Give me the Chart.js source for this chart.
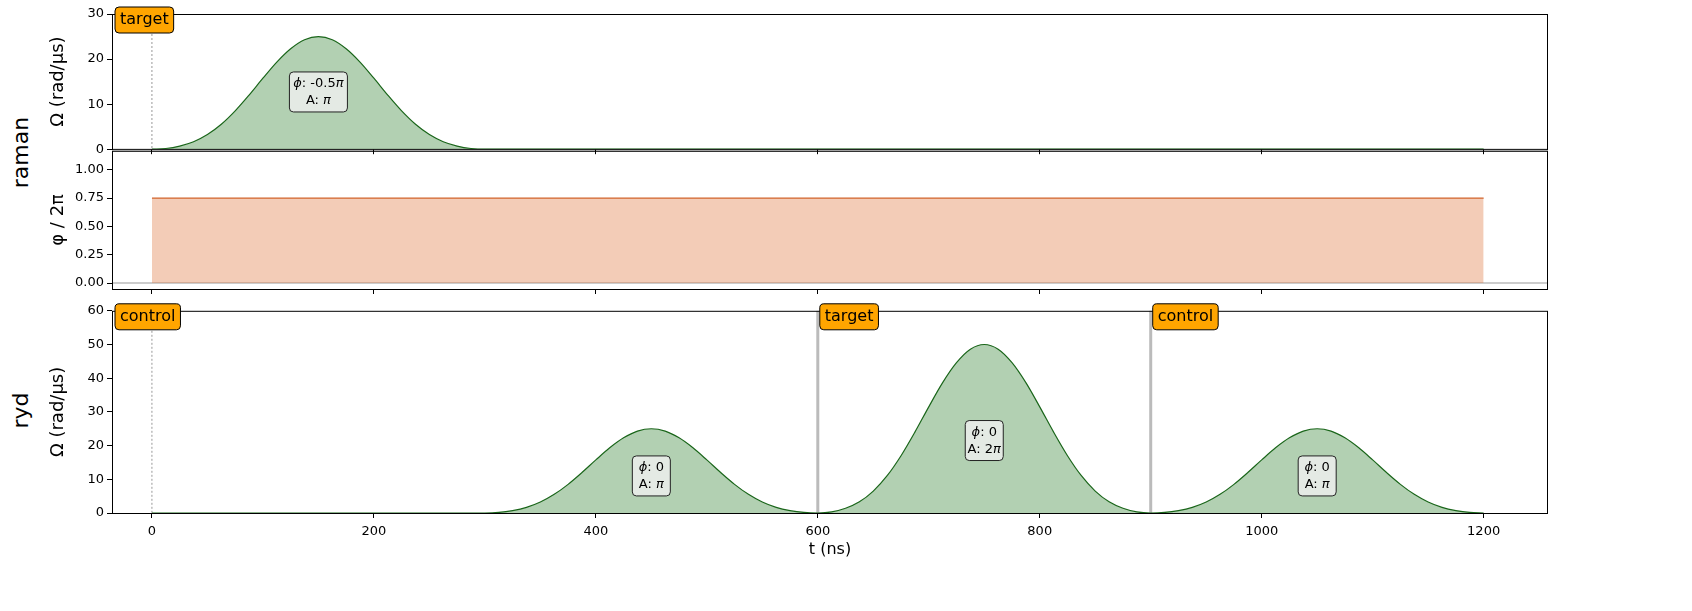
<!DOCTYPE html>
<html><head><meta charset="utf-8">
<script src="https://cdn.jsdelivr.net/npm/chart.js@4/dist/chart.umd.min.js"></script>
<style>
body{margin:0;background:#fff;width:1692px;height:611px;position:relative;overflow:hidden;font-family:"DejaVu Sans"}
canvas{position:absolute;left:0}
.side{position:absolute;font:22px "DejaVu Sans";transform:rotate(-90deg);transform-origin:center;}
</style></head><body>
<div class="side" style="left:-20px;top:140px;width:80px;text-align:center">raman</div>
<div class="side" style="left:-20px;top:398px;width:80px;text-align:center">ryd</div>
<div style="position:absolute;left:0;top:0;width:1692px;height:160px"><canvas id="c1"></canvas></div>
<div style="position:absolute;left:0;top:140px;width:1692px;height:160px"><canvas id="c2"></canvas></div>
<div style="position:absolute;left:0;top:300px;width:1692px;height:311px"><canvas id="c3"></canvas></div>
<script>
const T = [];
for (let t = 0; t <= 1200; t += 12.5) T.push(t);
const pulse25 = [0,0.16,0.7,1.66,3.25,5.53,8.5,12.0,15.75,19.34,22.3,24.3,25,24.3,22.3,19.34,15.75,12.0,8.5,5.53,3.25,1.66,0.7,0.16,0];
const pulse50 = [0,0.32,1.4,3.32,6.5,11.06,17,24,31.5,38.68,44.6,48.6,50,48.6,44.6,38.68,31.5,24,17,11.06,6.5,3.32,1.4,0.32,0];
const zeros = new Array(72).fill(0);
const ramanAmp = pulse25.concat(zeros);
const rydAmp = [0].concat(new Array(24).fill(0), pulse25.slice(1), pulse50.slice(1), pulse25.slice(1));
const ramanPhase = [0.75,0.75];
const ramanPhaseT = [0,1200];
const ramanTargets = [{t:0,label:'target'}];
const rydTargets = [{t:0,label:'control'},{t:600,label:'target'},{t:900,label:'control'}];
const ramanBoxes = [{t:150,y:12.7,phi:'-0.5',A:''}];
const rydBoxes = [{t:450,y:11,phi:'0',A:''},{t:750,y:21.5,phi:'0',A:'2'},{t:1050,y:11,phi:'0',A:''}];
const xTicks = [0,200,400,600,800,1000,1200];

const GREEN='#1a661a', GFILL='rgba(0,100,0,0.3)', ORANGE='#d2642c', OFILL='rgba(220,110,50,0.35)';
const FONT='"DejaVu Sans"';

function rr(ctx,x,y,w,h,r){ctx.beginPath();ctx.moveTo(x+r,y);ctx.arcTo(x+w,y,x+w,y+h,r);ctx.arcTo(x+w,y+h,x,y+h,r);ctx.arcTo(x,y+h,x,y,r);ctx.arcTo(x,y,x+w,y,r);ctx.closePath();}

function deco(opts){return {id:'deco',
 beforeDatasetsDraw(c){const ctx=c.ctx,a=c.chartArea,xs=c.scales.x,ys=c.scales.y;ctx.save();
  if(opts.zero){ctx.strokeStyle='#999';ctx.lineWidth=1;const y=ys.getPixelForValue(0);ctx.beginPath();ctx.moveTo(a.left,y);ctx.lineTo(a.right,y);ctx.stroke();}
  (opts.targets||[]).forEach(tg=>{const x=xs.getPixelForValue(tg.t);
   if(tg.t===0){ctx.strokeStyle='#555';ctx.lineWidth=0.6;ctx.setLineDash([2,2]);}else{ctx.strokeStyle='#bbb';ctx.lineWidth=3;ctx.setLineDash([]);}
   ctx.beginPath();ctx.moveTo(x,a.top);ctx.lineTo(x,a.bottom);ctx.stroke();ctx.setLineDash([]);});
  ctx.restore();},
 afterDatasetsDraw(c){const ctx=c.ctx,a=c.chartArea,xs=c.scales.x,ys=c.scales.y;ctx.save();
  ctx.strokeStyle='#000';ctx.lineWidth=1;ctx.strokeRect(a.left+0.5,a.top+0.5,a.right-a.left-1,a.bottom-a.top);
  (opts.boxes||[]).forEach(b=>{const cx=xs.getPixelForValue(b.t),cy=ys.getPixelForValue(b.y);
   const w=b.phi.length>1?58:38,h=40;rr(ctx,cx-w/2,cy-h/2,w,h,4);ctx.fillStyle='rgba(240,240,240,0.8)';ctx.fill();ctx.strokeStyle='#222';ctx.lineWidth=1;ctx.stroke();
   ctx.fillStyle='#000';ctx.textBaseline='middle';
   const l1=[['ϕ','italic'],[': '+b.phi,''],['π','italic']];if(b.phi==='0')l1.pop();
   const l2=[['A: '+b.A,''],['π','italic']];
   [[l1,cy-8],[l2,cy+9]].forEach(([segs,yy])=>{let tw=0;segs.forEach(s=>{ctx.font=s[1]+' 13px '+FONT;tw+=ctx.measureText(s[0]).width});let x=cx-tw/2;ctx.textAlign='left';
    segs.forEach(s=>{ctx.font=s[1]+' 13px '+FONT;ctx.fillText(s[0],x,yy);x+=ctx.measureText(s[0]).width;});});});
  (opts.targets||[]).forEach((tg,i)=>{let x=tg.t===0?a.left+3:xs.getPixelForValue(tg.t)+2;ctx.font='16px '+FONT;const w=ctx.measureText(tg.label).width+10;
   rr(ctx,x,a.top-7,w,26,4);ctx.fillStyle='#ffa500';ctx.fill();ctx.strokeStyle='#000';ctx.lineWidth=1;ctx.stroke();ctx.fillStyle='#000';ctx.textAlign='left';ctx.textBaseline='middle';ctx.fillText(tg.label,x+5,a.top+6);});
  ctx.restore();}};}

function mk(id,data,color,fill,ymin,ymax,ystep,ytitle,xh,pad,opts,tickFmt,showX){
 return new Chart(document.getElementById(id),{type:'line',
  data:{datasets:[{data:data,borderColor:color,backgroundColor:fill,fill:'origin',borderWidth:1.2,pointRadius:0,cubicInterpolationMode:'monotone'}]},
  options:{responsive:true,maintainAspectRatio:false,animation:false,layout:{padding:{top:pad[0],bottom:pad[1],left:44,right:144}},
   plugins:{legend:{display:false},tooltip:{enabled:false}},
   scales:{x:{type:'linear',min:-36,max:1258,afterBuildTicks(s){s.ticks=xTicks.map(v=>({value:v}))},
     grid:{drawOnChartArea:false,drawTicks:true,tickLength:5,color:'#000'},border:{display:false},
     ticks:{display:showX,color:'#000',font:{family:FONT,size:13},maxRotation:0,padding:6,callback:v=>String(v)},
     title:{display:showX,text:'t (ns)',color:'#000',font:{family:FONT,size:16},padding:{top:4}},
     afterFit(s){s.height=xh}},
    y:{min:ymin,max:ymax,afterBuildTicks(s){const t=[];for(let v=0;v<=ymax+1e-9;v+=ystep)t.push({value:v});s.ticks=t},
     grid:{drawOnChartArea:false,tickLength:5,color:'#000'},border:{display:false},
     ticks:{color:'#000',font:{family:FONT,size:13},callback:tickFmt},
     title:{display:true,text:ytitle,color:'#000',font:{family:FONT,size:18},padding:{bottom:2}},
     afterFit(s){s.width=68}}}},
  plugins:[deco(opts)]});}

mk('c1',T.map((t,i)=>({x:t,y:ramanAmp[i]})),GREEN,GFILL,0,30,10,'Ω (rad/µs)',9,[14,0],{zero:true,targets:ramanTargets,boxes:ramanBoxes},v=>v,false);
mk('c2',ramanPhaseT.map((t,i)=>({x:t,y:ramanPhase[i]})),ORANGE,OFILL,-0.053,1.168,0.25,'φ / 2π',11,[0,0],{zero:true},v=>v.toFixed(2),false);
mk('c3',T.map((t,i)=>({x:t,y:rydAmp[i]})),GREEN,GFILL,0,60,10,'Ω (rad/µs)',50,[1,48],{targets:rydTargets,boxes:rydBoxes},v=>v,true);
</script></body></html>
